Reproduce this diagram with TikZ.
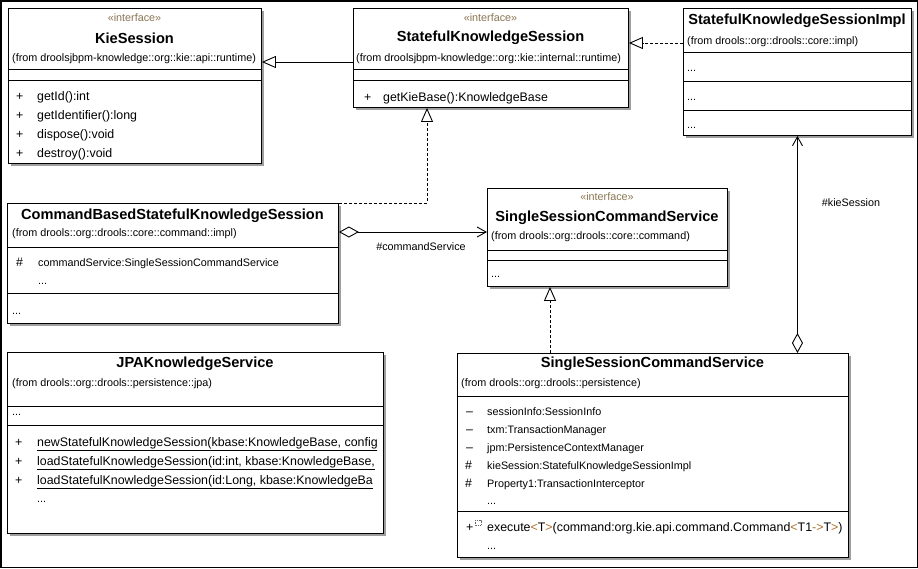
\documentclass[tikz,border=0pt]{standalone}
\usepackage{fontspec}
\setmainfont{Liberation Sans}
\usetikzlibrary{shadows,arrows.meta}
\definecolor{stereo}{RGB}{138,118,82}
\definecolor{gen}{RGB}{176,112,40}
\begin{document}
\begin{tikzpicture}[x=1pt,y=-1pt,
  cls/.style={draw=black, line width=0.9pt, fill=white, inner sep=0pt, anchor=north west,
    general shadow={fill=black!38, shadow xshift=3pt, shadow yshift=-3pt}},
  txt/.style={inner sep=0pt, font=\fontsize{10.8}{12}\selectfont, text height=7.6pt, text depth=2pt, yshift=-1.5pt},
  lt/.style={txt, anchor=west},
  mt/.style={inner sep=0pt, anchor=west, font=\fontsize{12.4}{14}\selectfont, text height=8.8pt, text depth=2.4pt, yshift=-1.5pt},
  ttl/.style={inner sep=0pt, font=\bfseries\fontsize{14.6}{16}\selectfont, yshift=-0.8pt},
  st/.style={txt, text=stereo},
  sep/.style={line width=0.9pt},
  genz/.style={line width=0.9pt, -{Triangle[open, length=14pt, width=12pt]}},
  realize/.style={line width=0.9pt, dash pattern=on 3pt off 2pt, -{Triangle[open, length=14pt, width=12pt]}},
  aggr/.style={line width=0.9pt, {Diamond[open, length=20pt, width=11pt]}-{Straight Barb[length=9pt, width=10pt]}}
]
\useasboundingbox (0,0) rectangle (918,568);
\draw[line width=1.5pt] (0.75,0.75) rectangle (917.25,567.25);

% ---------- KieSession
\node[cls, minimum width=253pt, minimum height=155pt] (kie) at (8,8) {};
\draw[sep] (kie.west |- 0,69) -- (kie.east |- 0,69);
\draw[sep] (kie.west |- 0,80) -- (kie.east |- 0,80);
\node[st] (kieS) at (134.5,17) {«interface»};
\node[ttl] (kieT) at (134.5,37) {KieSession};
\node[lt] (kieF) at (12,57) {(from droolsjbpm-knowledge::org::kie::api::runtime)};
\node[mt] (kieP1) at (16,96) {+};
\node[mt] (kieM1) at (37,96) {getId():int};
\node[mt] (kieP2) at (16,115) {+};
\node[mt] (kieM2) at (37,115) {getIdentifier():long};
\node[mt] (kieP3) at (16,134) {+};
\node[mt] (kieM3) at (37,134) {dispose():void};
\node[mt] (kieP4) at (16,153) {+};
\node[mt] (kieM4) at (37,153) {destroy():void};

% ---------- StatefulKnowledgeSession
\node[cls, minimum width=275pt, minimum height=99pt] (sks) at (353,8) {};
\draw[sep] (sks.west |- 0,69) -- (sks.east |- 0,69);
\draw[sep] (sks.west |- 0,80) -- (sks.east |- 0,80);
\node[st] (sksS) at (490.5,17) {«interface»};
\node[ttl] (sksT) at (490.5,37) {StatefulKnowledgeSession};
\node[lt] (sksF) at (356,57) {(from droolsjbpm-knowledge::org::kie::internal::runtime)};
\node[mt] (sksP1) at (364,97) {+};
\node[mt] (sksM1) at (383,97) {getKieBase():KnowledgeBase};

% ---------- StatefulKnowledgeSessionImpl
\node[cls, minimum width=228pt, minimum height=127pt] (impl) at (683,8) {};
\draw[sep] (impl.west |- 0,52) -- (impl.east |- 0,52);
\draw[sep] (impl.west |- 0,81) -- (impl.east |- 0,81);
\draw[sep] (impl.west |- 0,110) -- (impl.east |- 0,110);
\node[ttl] (implT) at (797,20) {StatefulKnowledgeSessionImpl};
\node[lt] (implF) at (687,40) {(from drools::org::drools::core::impl)};
\node[lt] (implD1) at (687,67) {...};
\node[lt] (implD2) at (687,96) {...};
\node[lt] (implD3) at (687,124) {...};

% ---------- CommandBasedStatefulKnowledgeSession
\node[cls, minimum width=331pt, minimum height=120pt] (cbs) at (7,203) {};
\draw[sep] (cbs.west |- 0,247) -- (cbs.east |- 0,247);
\draw[sep] (cbs.west |- 0,293) -- (cbs.east |- 0,293);
\node[ttl] (cbsT) at (172.5,215) {CommandBasedStatefulKnowledgeSession};
\node[lt] (cbsF) at (12,232) {(from drools::org::drools::core::command::impl)};
\node[mt] (cbsH1) at (16,262) {\#};
\node[lt] (cbsA1) at (38,262) {commandService:SingleSessionCommandService};
\node[lt] (cbsD1) at (38,280) {...};
\node[lt] (cbsD2) at (12,310) {...};

% ---------- SingleSessionCommandService (interface)
\node[cls, minimum width=240pt, minimum height=98pt] (sscsi) at (487,188) {};
\draw[sep] (sscsi.west |- 0,250) -- (sscsi.east |- 0,250);
\draw[sep] (sscsi.west |- 0,260) -- (sscsi.east |- 0,260);
\node[st] (sscsiS) at (607,196) {«interface»};
\node[ttl] (sscsiT) at (607,217) {SingleSessionCommandService};
\node[lt] (sscsiF) at (491,235) {(from drools::org::drools::core::command)};
\node[lt] (sscsiD1) at (491,273) {...};

% ---------- JPAKnowledgeService
\node[cls, minimum width=376pt, minimum height=181pt] (jpa) at (7,352) {};
\draw[sep] (jpa.west |- 0,406) -- (jpa.east |- 0,406);
\draw[sep] (jpa.west |- 0,425) -- (jpa.east |- 0,425);
\node[ttl] (jpaT) at (195,363) {JPAKnowledgeService};
\node[lt] (jpaF) at (12,382) {(from drools::org::drools::persistence::jpa)};
\node[lt] (jpaD1) at (12,411) {...};
\node[mt] (jpaP1) at (15,442) {+};
\node[mt] (jpaP2) at (15,461) {+};
\node[mt] (jpaP3) at (15,480) {+};
\begin{scope}
  \clip (30,430) rectangle (377,492);
  \node[mt] (jpaM1) at (37,442) {\underline{newStatefulKnowledgeSession(kbase:KnowledgeBase, config}};
  \node[mt] (jpaM2) at (37,461) {\underline{loadStatefulKnowledgeSession(id:int, kbase:KnowledgeBase,}};
  \node[mt] (jpaM3) at (37,480) {\underline{loadStatefulKnowledgeSession(id:Long, kbase:KnowledgeBa}};
\end{scope}
\node[lt] (jpaD2) at (37,498) {...};

% ---------- SingleSessionCommandService (persistence)
\node[cls, minimum width=391pt, minimum height=204pt] (sscsp) at (457,353) {};
\draw[sep] (sscsp.west |- 0,396) -- (sscsp.east |- 0,396);
\draw[sep] (sscsp.west |- 0,511) -- (sscsp.east |- 0,511);
\node[ttl] (sscspT) at (652.5,363) {SingleSessionCommandService};
\node[lt] (sscspF) at (461,382) {(from drools::org::drools::persistence)};
\node[mt] (sscspV1) at (466,411) {–};
\node[lt] (sscspA1) at (487,411) {sessionInfo:SessionInfo};
\node[mt] (sscspV2) at (466,429) {–};
\node[lt] (sscspA2) at (487,429) {txm:TransactionManager};
\node[mt] (sscspV3) at (466,447) {–};
\node[lt] (sscspA3) at (487,447) {jpm:PersistenceContextManager};
\node[mt] (sscspV4) at (465,465) {\#};
\node[lt] (sscspA4) at (487,465) {kieSession:StatefulKnowledgeSessionImpl};
\node[mt] (sscspV5) at (465,483) {\#};
\node[lt] (sscspA5) at (487,483) {Property1:TransactionInterceptor};
\node[lt] (sscspD1) at (487,500) {...};
\node[mt] (sscspP1) at (466,527) {+};
\draw[black!60, line width=0.5pt, dash pattern=on 0.8pt off 0.8pt] (475,520) rectangle (481,525);
\node[mt] (sscspM1) at (487,527) {execute\textcolor{gen}{<}T\textcolor{gen}{>}(command:org.kie.api.command.Command\textcolor{gen}{<}T1\textcolor{gen}{->}T\textcolor{gen}{>})};
\node[lt] (sscspD2) at (487,545) {...};

% ---------- connectors
\draw[genz] (sks.west |- 0,62) -- (kie.east |- 0,62);
\draw[realize] (impl.west |- 0,43) -- (sks.east |- 0,43);
\coordinate (bend) at (427,203);
\draw[realize] (cbs.north east) -- (bend) -- (sks.south -| bend);
\draw[aggr] (cbs.east |- 0,232) -- (sscsi.west |- 0,232);
\node[txt] (lblCS) at (421,246) {\#commandService};
\coordinate (rx) at (550,300);
\draw[realize] (sscsp.north -| rx) -- (sscsi.south -| rx);
\draw[aggr] (sscsp.north -| impl.south) -- (impl.south);
\node[txt] (lblKS) at (851,202) {\#kieSession};
\end{tikzpicture}
\end{document}
